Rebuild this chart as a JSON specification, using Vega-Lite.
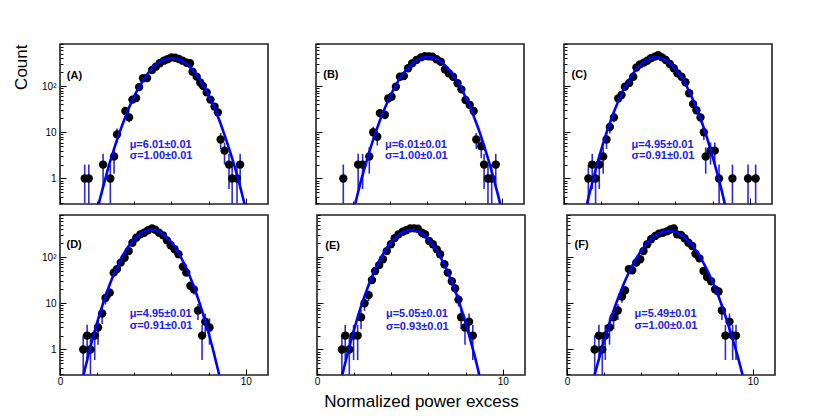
{
  "$schema": "https://vega.github.io/schema/vega-lite/v6.json",
  "padding": {"left": 11, "top": 42, "right": 5, "bottom": 5},
  "datasets": {
    "pts": [
      {"p":"A","x":1.33,"n":1,"lo":0.1,"hi":2},{"p":"A","x":1.55,"n":1,"lo":0.1,"hi":2},{"p":"A","x":2.32,"n":2,"lo":0.59,"hi":3.41},{"p":"A","x":2.71,"n":1,"lo":0.1,"hi":2},{"p":"A","x":2.91,"n":3,"lo":1.27,"hi":4.73},{"p":"A","x":3.07,"n":9,"lo":6,"hi":12},{"p":"A","x":3.52,"n":29,"lo":23.6,"hi":34.4},{"p":"A","x":3.72,"n":21,"lo":16.42,"hi":25.58},{"p":"A","x":3.9,"n":51},{"p":"A","x":4.1,"n":55},{"p":"A","x":4.26,"n":95},{"p":"A","x":4.47,"n":148},{"p":"A","x":4.69,"n":150},{"p":"A","x":4.96,"n":223},{"p":"A","x":5.16,"n":263},{"p":"A","x":5.37,"n":312},{"p":"A","x":5.59,"n":355},{"p":"A","x":5.79,"n":380},{"p":"A","x":6.0,"n":418},{"p":"A","x":6.2,"n":410},{"p":"A","x":6.4,"n":385},{"p":"A","x":6.6,"n":355},{"p":"A","x":6.82,"n":320},{"p":"A","x":7.0,"n":312},{"p":"A","x":7.14,"n":205},{"p":"A","x":7.36,"n":160},{"p":"A","x":7.55,"n":120},{"p":"A","x":7.7,"n":101},{"p":"A","x":7.9,"n":73},{"p":"A","x":8.1,"n":51},{"p":"A","x":8.32,"n":36},{"p":"A","x":8.5,"n":27,"lo":21.8,"hi":32.2},{"p":"A","x":8.65,"n":7,"lo":4.35,"hi":9.65},{"p":"A","x":8.86,"n":4,"lo":2,"hi":6},{"p":"A","x":9.1,"n":2,"lo":0.59,"hi":3.41},{"p":"A","x":9.27,"n":1,"lo":0.1,"hi":2},{"p":"A","x":9.53,"n":1,"lo":0.1,"hi":2},{"p":"A","x":9.7,"n":2,"lo":0.59,"hi":3.41},
      {"p":"B","x":1.47,"n":1,"lo":0.1,"hi":2},{"p":"B","x":2.27,"n":2,"lo":0.59,"hi":3.41},{"p":"B","x":2.51,"n":2,"lo":0.59,"hi":3.41},{"p":"B","x":2.87,"n":3,"lo":1.27,"hi":4.73},{"p":"B","x":3.08,"n":10,"lo":6.84,"hi":13.16},{"p":"B","x":3.3,"n":8,"lo":5.17,"hi":10.83},{"p":"B","x":3.44,"n":26,"lo":20.9,"hi":31.1},{"p":"B","x":3.71,"n":24,"lo":19.1,"hi":28.9},{"p":"B","x":3.89,"n":54},{"p":"B","x":4.07,"n":59},{"p":"B","x":4.3,"n":97},{"p":"B","x":4.52,"n":159},{"p":"B","x":4.73,"n":165},{"p":"B","x":4.96,"n":243},{"p":"B","x":5.18,"n":311},{"p":"B","x":5.41,"n":367},{"p":"B","x":5.65,"n":418},{"p":"B","x":5.86,"n":446},{"p":"B","x":6.08,"n":440},{"p":"B","x":6.27,"n":435},{"p":"B","x":6.49,"n":380},{"p":"B","x":6.72,"n":337},{"p":"B","x":6.94,"n":230},{"p":"B","x":7.15,"n":190},{"p":"B","x":7.38,"n":159},{"p":"B","x":7.62,"n":115},{"p":"B","x":7.83,"n":85},{"p":"B","x":8.05,"n":50},{"p":"B","x":8.28,"n":39},{"p":"B","x":8.49,"n":29,"lo":23.6,"hi":34.4},{"p":"B","x":8.63,"n":7,"lo":4.35,"hi":9.65},{"p":"B","x":8.9,"n":5,"lo":2.76,"hi":7.24},{"p":"B","x":9.05,"n":2,"lo":0.59,"hi":3.41},{"p":"B","x":9.26,"n":1,"lo":0.1,"hi":2},{"p":"B","x":9.46,"n":1,"lo":0.1,"hi":2},{"p":"B","x":9.68,"n":2,"lo":0.59,"hi":3.41},
      {"p":"C","x":1.31,"n":1,"lo":0.1,"hi":2},{"p":"C","x":1.52,"n":2,"lo":0.59,"hi":3.41},{"p":"C","x":1.7,"n":1,"lo":0.1,"hi":2},{"p":"C","x":1.9,"n":2,"lo":0.59,"hi":3.41},{"p":"C","x":2.11,"n":3,"lo":1.27,"hi":4.73},{"p":"C","x":2.29,"n":7,"lo":4.35,"hi":9.65},{"p":"C","x":2.47,"n":13,"lo":9.39,"hi":16.61},{"p":"C","x":2.69,"n":21,"lo":16.42,"hi":25.58},{"p":"C","x":2.92,"n":54},{"p":"C","x":3.1,"n":64},{"p":"C","x":3.28,"n":97},{"p":"C","x":3.51,"n":117},{"p":"C","x":3.73,"n":159},{"p":"C","x":3.9,"n":253},{"p":"C","x":4.09,"n":296},{"p":"C","x":4.3,"n":322},{"p":"C","x":4.48,"n":354},{"p":"C","x":4.68,"n":400},{"p":"C","x":4.89,"n":434},{"p":"C","x":5.07,"n":465},{"p":"C","x":5.28,"n":418},{"p":"C","x":5.48,"n":367},{"p":"C","x":5.7,"n":300},{"p":"C","x":5.91,"n":243},{"p":"C","x":6.11,"n":189},{"p":"C","x":6.33,"n":159},{"p":"C","x":6.54,"n":121},{"p":"C","x":6.74,"n":70},{"p":"C","x":6.95,"n":41},{"p":"C","x":7.13,"n":30,"lo":24.5,"hi":35.5},{"p":"C","x":7.35,"n":21,"lo":16.42,"hi":25.58},{"p":"C","x":7.53,"n":10,"lo":6.84,"hi":13.16},{"p":"C","x":7.63,"n":3,"lo":1.27,"hi":4.73},{"p":"C","x":7.89,"n":4,"lo":2,"hi":6},{"p":"C","x":8.12,"n":4,"lo":2,"hi":6},{"p":"C","x":8.35,"n":1,"lo":0.1,"hi":2},{"p":"C","x":9.07,"n":1,"lo":0.1,"hi":2},{"p":"C","x":9.91,"n":1,"lo":0.1,"hi":2},{"p":"C","x":10.32,"n":1,"lo":0.1,"hi":2},
      {"p":"D","x":1.25,"n":1,"lo":0.1,"hi":2},{"p":"D","x":1.46,"n":2,"lo":0.59,"hi":3.41},{"p":"D","x":1.64,"n":1,"lo":0.1,"hi":2},{"p":"D","x":1.87,"n":2,"lo":0.59,"hi":3.41},{"p":"D","x":2.05,"n":3,"lo":1.27,"hi":4.73},{"p":"D","x":2.27,"n":6,"lo":3.55,"hi":8.45},{"p":"D","x":2.45,"n":13,"lo":9.39,"hi":16.61},{"p":"D","x":2.68,"n":17,"lo":12.88,"hi":21.12},{"p":"D","x":2.89,"n":46},{"p":"D","x":3.07,"n":55},{"p":"D","x":3.27,"n":76},{"p":"D","x":3.48,"n":97},{"p":"D","x":3.7,"n":135},{"p":"D","x":3.9,"n":204},{"p":"D","x":4.11,"n":263},{"p":"D","x":4.33,"n":311},{"p":"D","x":4.53,"n":337},{"p":"D","x":4.74,"n":380},{"p":"D","x":4.96,"n":418},{"p":"D","x":5.13,"n":390},{"p":"D","x":5.33,"n":337},{"p":"D","x":5.55,"n":296},{"p":"D","x":5.76,"n":230},{"p":"D","x":5.96,"n":180},{"p":"D","x":6.17,"n":148},{"p":"D","x":6.38,"n":115},{"p":"D","x":6.62,"n":62},{"p":"D","x":6.8,"n":46},{"p":"D","x":7.02,"n":24,"lo":19.1,"hi":28.9},{"p":"D","x":7.21,"n":20,"lo":15.53,"hi":24.47},{"p":"D","x":7.43,"n":7,"lo":4.35,"hi":9.65},{"p":"D","x":7.65,"n":2,"lo":0.59,"hi":3.41},{"p":"D","x":7.82,"n":4,"lo":2,"hi":6},{"p":"D","x":8.05,"n":3,"lo":1.27,"hi":4.73},
      {"p":"E","x":1.34,"n":1,"lo":0.1,"hi":2},{"p":"E","x":1.52,"n":2,"lo":0.59,"hi":3.41},{"p":"E","x":1.74,"n":1,"lo":0.1,"hi":2},{"p":"E","x":1.97,"n":2,"lo":0.59,"hi":3.41},{"p":"E","x":2.19,"n":2,"lo":0.59,"hi":3.41},{"p":"E","x":2.37,"n":5,"lo":2.76,"hi":7.24},{"p":"E","x":2.56,"n":10,"lo":6.84,"hi":13.16},{"p":"E","x":2.78,"n":15,"lo":11.13,"hi":18.87},{"p":"E","x":2.96,"n":32},{"p":"E","x":3.13,"n":50},{"p":"E","x":3.35,"n":67},{"p":"E","x":3.55,"n":90},{"p":"E","x":3.76,"n":135},{"p":"E","x":3.98,"n":190},{"p":"E","x":4.18,"n":257},{"p":"E","x":4.39,"n":311},{"p":"E","x":4.61,"n":355},{"p":"E","x":4.8,"n":380},{"p":"E","x":5.02,"n":418},{"p":"E","x":5.23,"n":418},{"p":"E","x":5.43,"n":410},{"p":"E","x":5.65,"n":337},{"p":"E","x":5.82,"n":311},{"p":"E","x":6.04,"n":223},{"p":"E","x":6.24,"n":190},{"p":"E","x":6.45,"n":147},{"p":"E","x":6.63,"n":115},{"p":"E","x":6.86,"n":70},{"p":"E","x":7.04,"n":46},{"p":"E","x":7.26,"n":30,"lo":24.5,"hi":35.5},{"p":"E","x":7.44,"n":21,"lo":16.42,"hi":25.58},{"p":"E","x":7.62,"n":12,"lo":8.54,"hi":15.46},{"p":"E","x":7.76,"n":5,"lo":2.76,"hi":7.24},{"p":"E","x":7.97,"n":3,"lo":1.27,"hi":4.73},{"p":"E","x":8.19,"n":4,"lo":2,"hi":6},{"p":"E","x":8.39,"n":2,"lo":0.59,"hi":3.41},
      {"p":"F","x":1.49,"n":1,"lo":0.1,"hi":2},{"p":"F","x":1.72,"n":2,"lo":0.59,"hi":3.41},{"p":"F","x":1.9,"n":1,"lo":0.1,"hi":2},{"p":"F","x":2.06,"n":2,"lo":0.59,"hi":3.41},{"p":"F","x":2.29,"n":3,"lo":1.27,"hi":4.73},{"p":"F","x":2.51,"n":5,"lo":2.76,"hi":7.24},{"p":"F","x":2.74,"n":7,"lo":4.35,"hi":9.65},{"p":"F","x":2.96,"n":14,"lo":10.26,"hi":17.74},{"p":"F","x":3.13,"n":19,"lo":14.64,"hi":23.36},{"p":"F","x":3.33,"n":55},{"p":"F","x":3.51,"n":52},{"p":"F","x":3.73,"n":76},{"p":"F","x":3.94,"n":90},{"p":"F","x":4.12,"n":135},{"p":"F","x":4.32,"n":190},{"p":"F","x":4.53,"n":243},{"p":"F","x":4.75,"n":287},{"p":"F","x":4.95,"n":322},{"p":"F","x":5.16,"n":337},{"p":"F","x":5.38,"n":360},{"p":"F","x":5.57,"n":395},{"p":"F","x":5.75,"n":418},{"p":"F","x":5.93,"n":311},{"p":"F","x":6.14,"n":300},{"p":"F","x":6.33,"n":256},{"p":"F","x":6.54,"n":204},{"p":"F","x":6.74,"n":174},{"p":"F","x":6.92,"n":118},{"p":"F","x":7.13,"n":94},{"p":"F","x":7.35,"n":50},{"p":"F","x":7.54,"n":37},{"p":"F","x":7.76,"n":30,"lo":24.5,"hi":35.5},{"p":"F","x":7.97,"n":20,"lo":15.53,"hi":24.47},{"p":"F","x":8.16,"n":18,"lo":13.76,"hi":22.24},{"p":"F","x":8.34,"n":7,"lo":4.35,"hi":9.65},{"p":"F","x":8.53,"n":2,"lo":0.59,"hi":3.41},{"p":"F","x":8.75,"n":4,"lo":2,"hi":6},{"p":"F","x":8.92,"n":2,"lo":0.59,"hi":3.41},{"p":"F","x":9.1,"n":2,"lo":0.59,"hi":3.41}
    ],
    "fit": [
      {"p":"A","x":1.89,"f":0.136},{"p":"A","x":2.15,"f":0.358},{"p":"A","x":2.41,"f":0.886},{"p":"A","x":2.66,"f":2.06},{"p":"A","x":2.92,"f":4.5},{"p":"A","x":3.18,"f":9.23},{"p":"A","x":3.44,"f":17.8},{"p":"A","x":3.69,"f":32.2},{"p":"A","x":3.95,"f":54.8},{"p":"A","x":4.21,"f":87.6},{"p":"A","x":4.47,"f":131.5},{"p":"A","x":4.72,"f":185.4},{"p":"A","x":4.98,"f":245.6},{"p":"A","x":5.24,"f":305.7},{"p":"A","x":5.5,"f":357.4},{"p":"A","x":5.75,"f":392.5},{"p":"A","x":6.01,"f":405},{"p":"A","x":6.27,"f":392.5},{"p":"A","x":6.53,"f":357.4},{"p":"A","x":6.78,"f":305.7},{"p":"A","x":7.04,"f":245.6},{"p":"A","x":7.3,"f":185.4},{"p":"A","x":7.56,"f":131.5},{"p":"A","x":7.81,"f":87.6},{"p":"A","x":8.07,"f":54.8},{"p":"A","x":8.33,"f":32.2},{"p":"A","x":8.59,"f":17.8},{"p":"A","x":8.84,"f":9.23},{"p":"A","x":9.1,"f":4.5},{"p":"A","x":9.36,"f":2.06},{"p":"A","x":9.62,"f":0.886},{"p":"A","x":9.87,"f":0.358},{"p":"A","x":10.13,"f":0.136},
      {"p":"B","x":1.93,"f":0.144},{"p":"B","x":2.19,"f":0.38},{"p":"B","x":2.44,"f":0.94},{"p":"B","x":2.7,"f":2.19},{"p":"B","x":2.95,"f":4.78},{"p":"B","x":3.21,"f":9.8},{"p":"B","x":3.46,"f":18.9},{"p":"B","x":3.72,"f":34.2},{"p":"B","x":3.97,"f":58.2},{"p":"B","x":4.23,"f":93.0},{"p":"B","x":4.48,"f":139.6},{"p":"B","x":4.74,"f":196.9},{"p":"B","x":4.99,"f":260.8},{"p":"B","x":5.25,"f":324.6},{"p":"B","x":5.5,"f":379.5},{"p":"B","x":5.76,"f":416.8},{"p":"B","x":6.01,"f":430},{"p":"B","x":6.27,"f":416.8},{"p":"B","x":6.52,"f":379.5},{"p":"B","x":6.78,"f":324.6},{"p":"B","x":7.03,"f":260.8},{"p":"B","x":7.29,"f":196.9},{"p":"B","x":7.54,"f":139.6},{"p":"B","x":7.8,"f":93.0},{"p":"B","x":8.05,"f":58.2},{"p":"B","x":8.31,"f":34.2},{"p":"B","x":8.56,"f":18.9},{"p":"B","x":8.82,"f":9.8},{"p":"B","x":9.07,"f":4.78},{"p":"B","x":9.33,"f":2.19},{"p":"B","x":9.58,"f":0.94},{"p":"B","x":9.84,"f":0.38},{"p":"B","x":10.09,"f":0.144},
      {"p":"C","x":1.07,"f":0.141},{"p":"C","x":1.31,"f":0.371},{"p":"C","x":1.56,"f":0.919},{"p":"C","x":1.8,"f":2.14},{"p":"C","x":2.04,"f":4.67},{"p":"C","x":2.28,"f":9.57},{"p":"C","x":2.53,"f":18.5},{"p":"C","x":2.77,"f":33.4},{"p":"C","x":3.01,"f":56.8},{"p":"C","x":3.25,"f":90.8},{"p":"C","x":3.5,"f":136.4},{"p":"C","x":3.74,"f":192.3},{"p":"C","x":3.98,"f":254.7},{"p":"C","x":4.22,"f":317.0},{"p":"C","x":4.47,"f":370.7},{"p":"C","x":4.71,"f":407.1},{"p":"C","x":4.95,"f":420},{"p":"C","x":5.19,"f":407.1},{"p":"C","x":5.44,"f":370.7},{"p":"C","x":5.68,"f":317.0},{"p":"C","x":5.92,"f":254.7},{"p":"C","x":6.16,"f":192.3},{"p":"C","x":6.41,"f":136.4},{"p":"C","x":6.65,"f":90.8},{"p":"C","x":6.89,"f":56.8},{"p":"C","x":7.13,"f":33.4},{"p":"C","x":7.38,"f":18.5},{"p":"C","x":7.62,"f":9.57},{"p":"C","x":7.86,"f":4.67},{"p":"C","x":8.1,"f":2.14},{"p":"C","x":8.35,"f":0.919},{"p":"C","x":8.59,"f":0.371},{"p":"C","x":8.83,"f":0.141},
      {"p":"D","x":1.08,"f":0.131},{"p":"D","x":1.32,"f":0.345},{"p":"D","x":1.56,"f":0.853},{"p":"D","x":1.8,"f":1.98},{"p":"D","x":2.04,"f":4.33},{"p":"D","x":2.28,"f":8.89},{"p":"D","x":2.52,"f":17.1},{"p":"D","x":2.76,"f":31.0},{"p":"D","x":3.0,"f":52.8},{"p":"D","x":3.24,"f":84.4},{"p":"D","x":3.48,"f":126.6},{"p":"D","x":3.72,"f":178.5},{"p":"D","x":3.96,"f":236.5},{"p":"D","x":4.2,"f":294.4},{"p":"D","x":4.44,"f":344.2},{"p":"D","x":4.68,"f":378.0},{"p":"D","x":4.92,"f":390},{"p":"D","x":5.16,"f":378.0},{"p":"D","x":5.4,"f":344.2},{"p":"D","x":5.64,"f":294.4},{"p":"D","x":5.88,"f":236.5},{"p":"D","x":6.12,"f":178.5},{"p":"D","x":6.36,"f":126.6},{"p":"D","x":6.6,"f":84.4},{"p":"D","x":6.84,"f":52.8},{"p":"D","x":7.08,"f":31.0},{"p":"D","x":7.32,"f":17.1},{"p":"D","x":7.56,"f":8.89},{"p":"D","x":7.8,"f":4.33},{"p":"D","x":8.04,"f":1.98},{"p":"D","x":8.28,"f":0.853},{"p":"D","x":8.52,"f":0.345},{"p":"D","x":8.76,"f":0.131},
      {"p":"E","x":1.17,"f":0.129},{"p":"E","x":1.41,"f":0.34},{"p":"E","x":1.66,"f":0.842},{"p":"E","x":1.9,"f":1.96},{"p":"E","x":2.14,"f":4.28},{"p":"E","x":2.38,"f":8.77},{"p":"E","x":2.63,"f":16.9},{"p":"E","x":2.87,"f":30.6},{"p":"E","x":3.11,"f":52.1},{"p":"E","x":3.35,"f":83.3},{"p":"E","x":3.6,"f":125.0},{"p":"E","x":3.84,"f":176.3},{"p":"E","x":4.08,"f":233.5},{"p":"E","x":4.32,"f":290.6},{"p":"E","x":4.57,"f":339.8},{"p":"E","x":4.81,"f":373.1},{"p":"E","x":5.05,"f":385},{"p":"E","x":5.29,"f":373.1},{"p":"E","x":5.54,"f":339.8},{"p":"E","x":5.78,"f":290.6},{"p":"E","x":6.02,"f":233.5},{"p":"E","x":6.26,"f":176.3},{"p":"E","x":6.51,"f":125.0},{"p":"E","x":6.75,"f":83.3},{"p":"E","x":6.99,"f":52.1},{"p":"E","x":7.23,"f":30.6},{"p":"E","x":7.48,"f":16.9},{"p":"E","x":7.72,"f":8.77},{"p":"E","x":7.96,"f":4.28},{"p":"E","x":8.2,"f":1.96},{"p":"E","x":8.45,"f":0.842},{"p":"E","x":8.69,"f":0.34},{"p":"E","x":8.93,"f":0.129},
      {"p":"F","x":1.27,"f":0.124},{"p":"F","x":1.53,"f":0.327},{"p":"F","x":1.8,"f":0.809},{"p":"F","x":2.06,"f":1.88},{"p":"F","x":2.32,"f":4.11},{"p":"F","x":2.58,"f":8.43},{"p":"F","x":2.85,"f":16.3},{"p":"F","x":3.11,"f":29.5},{"p":"F","x":3.37,"f":50.1},{"p":"F","x":3.63,"f":80.0},{"p":"F","x":3.9,"f":120.1},{"p":"F","x":4.16,"f":169.4},{"p":"F","x":4.42,"f":224.4},{"p":"F","x":4.68,"f":279.3},{"p":"F","x":4.95,"f":326.5},{"p":"F","x":5.21,"f":358.6},{"p":"F","x":5.47,"f":370},{"p":"F","x":5.73,"f":358.6},{"p":"F","x":6.0,"f":326.5},{"p":"F","x":6.26,"f":279.3},{"p":"F","x":6.52,"f":224.4},{"p":"F","x":6.78,"f":169.4},{"p":"F","x":7.05,"f":120.1},{"p":"F","x":7.31,"f":80.0},{"p":"F","x":7.57,"f":50.1},{"p":"F","x":7.83,"f":29.5},{"p":"F","x":8.1,"f":16.3},{"p":"F","x":8.36,"f":8.43},{"p":"F","x":8.62,"f":4.11},{"p":"F","x":8.88,"f":1.88},{"p":"F","x":9.15,"f":0.809},{"p":"F","x":9.41,"f":0.327},{"p":"F","x":9.67,"f":0.124}
    ],
    "tags": [
      {"p":"A","tag":"(A)","mu":"μ=6.01±0.01","sg":"σ=1.00±0.01"},
      {"p":"B","tag":"(B)","mu":"μ=6.01±0.01","sg":"σ=1.00±0.01"},
      {"p":"C","tag":"(C)","mu":"μ=4.95±0.01","sg":"σ=0.91±0.01"},
      {"p":"D","tag":"(D)","mu":"μ=4.95±0.01","sg":"σ=0.91±0.01"},
      {"p":"E","tag":"(E)","mu":"μ=5.05±0.01","sg":"σ=0.93±0.01"},
      {"p":"F","tag":"(F)","mu":"μ=5.49±0.01","sg":"σ=1.00±0.01"}
    ]
  },
  "vconcat": [
    {"hconcat": [
      {"width":208,"height":160,"layer":[
        {"data":{"name":"pts"},"transform":[{"filter":"datum.p==='A' && isValid(datum.hi)"}],"mark":{"type":"rule","color":"#2b2bd0","strokeWidth":1.6,"clip":true},
         "encoding":{"x":{"field":"x","type":"quantitative","scale":{"domain":[0,11.2],"nice":false,"zero":false},"axis":{"values":[0,1,2,3,4,5,6,7,8,9,10,11],"labels":false,"title":null,"tickSize":{"condition":{"test":"datum.value % 5 === 0","value":-6},"value":-3}}},
                     "y":{"field":"lo","type":"quantitative","scale":{"type":"log","domain":[0.28,815],"nice":false},"axis":{"values":[0.3,0.4,0.5,0.6,0.7,0.8,0.9,1,2,3,4,5,6,7,8,9,10,20,30,40,50,60,70,80,90,100,200,300,400,500,600,700,800],"labelExpr":"datum.value===1?'1':datum.value===10?'10':datum.value===100?'10²':''","labelFontSize":{"condition":{"test":"datum.value===1||datum.value===10||datum.value===100","value":10},"value":0},"labelPadding":10,"title":"Count","titleAnchor":"end","titleAlign":"right","titleBaseline":"alphabetic","titleX":-34,"titleY":0,"tickSize":{"condition":{"test":"datum.value===1||datum.value===10||datum.value===100","value":-6},"value":-3}}},
                     "y2":{"field":"hi"}}},
        {"data":{"name":"pts"},"transform":[{"filter":"datum.p==='A'"}],"mark":{"type":"circle","color":"#000","opacity":1,"size":70,"clip":true},"encoding":{"x":{"field":"x","type":"quantitative"},"y":{"field":"n","type":"quantitative"}}},
        {"data":{"name":"fit"},"transform":[{"filter":"datum.p==='A'"}],"mark":{"type":"line","color":"#0000ff","strokeWidth":2.6,"clip":true,"interpolate":"monotone"},"encoding":{"x":{"field":"x","type":"quantitative"},"y":{"field":"f","type":"quantitative"}}},
        {"data":{"name":"tags"},"transform":[{"filter":"datum.p==='A'"}],"mark":{"type":"text","align":"left","baseline":"middle","font":"Liberation Sans","fontSize":11,"fontWeight":"bold","color":"#000"},"encoding":{"x":{"datum":0.37,"type":"quantitative"},"y":{"datum":165,"type":"quantitative"},"text":{"field":"tag"}}},
        {"data":{"name":"tags"},"transform":[{"filter":"datum.p==='A'"}],"mark":{"type":"text","align":"left","baseline":"middle","font":"Liberation Sans","fontSize":11,"fontWeight":"bold","color":"#2020f0"},"encoding":{"x":{"datum":3.75,"type":"quantitative"},"y":{"datum":5.3,"type":"quantitative"},"text":{"field":"mu"}}},
        {"data":{"name":"tags"},"transform":[{"filter":"datum.p==='A'"}],"mark":{"type":"text","align":"left","baseline":"middle","font":"Liberation Sans","fontSize":11,"fontWeight":"bold","color":"#2020f0"},"encoding":{"x":{"datum":3.75,"type":"quantitative"},"y":{"datum":3.07,"type":"quantitative"},"text":{"field":"sg"}}}
      ]},
      {"hconcat": [
        {"width":208,"height":160,"layer":[
          {"data":{"name":"pts"},"transform":[{"filter":"datum.p==='B' && isValid(datum.hi)"}],"mark":{"type":"rule","color":"#2b2bd0","strokeWidth":1.6,"clip":true},
           "encoding":{"x":{"field":"x","type":"quantitative","scale":{"domain":[0,11.2],"nice":false,"zero":false},"axis":{"values":[0,1,2,3,4,5,6,7,8,9,10,11],"labels":false,"title":null,"tickSize":{"condition":{"test":"datum.value % 5 === 0","value":-6},"value":-3}}},
                       "y":{"field":"lo","type":"quantitative","scale":{"type":"log","domain":[0.28,815],"nice":false},"axis":{"values":[0.3,0.4,0.5,0.6,0.7,0.8,0.9,1,2,3,4,5,6,7,8,9,10,20,30,40,50,60,70,80,90,100,200,300,400,500,600,700,800],"labels":false,"title":null,"tickSize":{"condition":{"test":"datum.value===1||datum.value===10||datum.value===100","value":-6},"value":-3}}},
                       "y2":{"field":"hi"}}},
          {"data":{"name":"pts"},"transform":[{"filter":"datum.p==='B'"}],"mark":{"type":"circle","color":"#000","opacity":1,"size":70,"clip":true},"encoding":{"x":{"field":"x","type":"quantitative"},"y":{"field":"n","type":"quantitative"}}},
          {"data":{"name":"fit"},"transform":[{"filter":"datum.p==='B'"}],"mark":{"type":"line","color":"#0000ff","strokeWidth":2.6,"clip":true,"interpolate":"monotone"},"encoding":{"x":{"field":"x","type":"quantitative"},"y":{"field":"f","type":"quantitative"}}},
          {"data":{"name":"tags"},"transform":[{"filter":"datum.p==='B'"}],"mark":{"type":"text","align":"left","baseline":"middle","font":"Liberation Sans","fontSize":11,"fontWeight":"bold","color":"#000"},"encoding":{"x":{"datum":0.39,"type":"quantitative"},"y":{"datum":170,"type":"quantitative"},"text":{"field":"tag"}}},
          {"data":{"name":"tags"},"transform":[{"filter":"datum.p==='B'"}],"mark":{"type":"text","align":"left","baseline":"middle","font":"Liberation Sans","fontSize":11,"fontWeight":"bold","color":"#2020f0"},"encoding":{"x":{"datum":3.71,"type":"quantitative"},"y":{"datum":5.3,"type":"quantitative"},"text":{"field":"mu"}}},
          {"data":{"name":"tags"},"transform":[{"filter":"datum.p==='B'"}],"mark":{"type":"text","align":"left","baseline":"middle","font":"Liberation Sans","fontSize":11,"fontWeight":"bold","color":"#2020f0"},"encoding":{"x":{"datum":3.71,"type":"quantitative"},"y":{"datum":3.07,"type":"quantitative"},"text":{"field":"sg"}}}
        ]},
        {"width":208,"height":160,"layer":[
          {"data":{"name":"pts"},"transform":[{"filter":"datum.p==='C' && isValid(datum.hi)"}],"mark":{"type":"rule","color":"#2b2bd0","strokeWidth":1.6,"clip":true},
           "encoding":{"x":{"field":"x","type":"quantitative","scale":{"domain":[0,11.2],"nice":false,"zero":false},"axis":{"values":[0,1,2,3,4,5,6,7,8,9,10,11],"labels":false,"title":null,"tickSize":{"condition":{"test":"datum.value % 5 === 0","value":-6},"value":-3}}},
                       "y":{"field":"lo","type":"quantitative","scale":{"type":"log","domain":[0.28,815],"nice":false},"axis":{"values":[0.3,0.4,0.5,0.6,0.7,0.8,0.9,1,2,3,4,5,6,7,8,9,10,20,30,40,50,60,70,80,90,100,200,300,400,500,600,700,800],"labels":false,"title":null,"tickSize":{"condition":{"test":"datum.value===1||datum.value===10||datum.value===100","value":-6},"value":-3}}},
                       "y2":{"field":"hi"}}},
          {"data":{"name":"pts"},"transform":[{"filter":"datum.p==='C'"}],"mark":{"type":"circle","color":"#000","opacity":1,"size":70,"clip":true},"encoding":{"x":{"field":"x","type":"quantitative"},"y":{"field":"n","type":"quantitative"}}},
          {"data":{"name":"fit"},"transform":[{"filter":"datum.p==='C'"}],"mark":{"type":"line","color":"#0000ff","strokeWidth":2.6,"clip":true,"interpolate":"monotone"},"encoding":{"x":{"field":"x","type":"quantitative"},"y":{"field":"f","type":"quantitative"}}},
          {"data":{"name":"tags"},"transform":[{"filter":"datum.p==='C'"}],"mark":{"type":"text","align":"left","baseline":"middle","font":"Liberation Sans","fontSize":11,"fontWeight":"bold","color":"#000"},"encoding":{"x":{"datum":0.41,"type":"quantitative"},"y":{"datum":170,"type":"quantitative"},"text":{"field":"tag"}}},
          {"data":{"name":"tags"},"transform":[{"filter":"datum.p==='C'"}],"mark":{"type":"text","align":"left","baseline":"middle","font":"Liberation Sans","fontSize":11,"fontWeight":"bold","color":"#2020f0"},"encoding":{"x":{"datum":3.64,"type":"quantitative"},"y":{"datum":5.3,"type":"quantitative"},"text":{"field":"mu"}}},
          {"data":{"name":"tags"},"transform":[{"filter":"datum.p==='C'"}],"mark":{"type":"text","align":"left","baseline":"middle","font":"Liberation Sans","fontSize":11,"fontWeight":"bold","color":"#2020f0"},"encoding":{"x":{"datum":3.64,"type":"quantitative"},"y":{"datum":3.07,"type":"quantitative"},"text":{"field":"sg"}}}
        ]}
      ], "spacing": 37}
    ], "spacing": 45},
    {"hconcat": [
      {"width":208,"height":160,"layer":[
        {"data":{"name":"pts"},"transform":[{"filter":"datum.p==='D' && isValid(datum.hi)"}],"mark":{"type":"rule","color":"#2b2bd0","strokeWidth":1.6,"clip":true},
         "encoding":{"x":{"field":"x","type":"quantitative","scale":{"domain":[0,11.2],"nice":false,"zero":false},"axis":{"values":[0,1,2,3,4,5,6,7,8,9,10,11],"labelExpr":"datum.value % 5 === 0 ? datum.label : ''","labelPadding":7,"title":null,"tickSize":{"condition":{"test":"datum.value % 5 === 0","value":-6},"value":-3}}},
                     "y":{"field":"lo","type":"quantitative","scale":{"type":"log","domain":[0.28,815],"nice":false},"axis":{"values":[0.3,0.4,0.5,0.6,0.7,0.8,0.9,1,2,3,4,5,6,7,8,9,10,20,30,40,50,60,70,80,90,100,200,300,400,500,600,700,800],"labelExpr":"datum.value===1?'1':datum.value===10?'10':datum.value===100?'10²':''","labelFontSize":{"condition":{"test":"datum.value===1||datum.value===10||datum.value===100","value":10},"value":0},"labelPadding":10,"title":"Count","titleOpacity":0,"titleAnchor":"end","titleAlign":"right","titleBaseline":"alphabetic","titleX":-34,"titleY":0,"tickSize":{"condition":{"test":"datum.value===1||datum.value===10||datum.value===100","value":-6},"value":-3}}},
                     "y2":{"field":"hi"}}},
        {"data":{"name":"pts"},"transform":[{"filter":"datum.p==='D'"}],"mark":{"type":"circle","color":"#000","opacity":1,"size":70,"clip":true},"encoding":{"x":{"field":"x","type":"quantitative"},"y":{"field":"n","type":"quantitative"}}},
        {"data":{"name":"fit"},"transform":[{"filter":"datum.p==='D'"}],"mark":{"type":"line","color":"#0000ff","strokeWidth":2.6,"clip":true,"interpolate":"monotone"},"encoding":{"x":{"field":"x","type":"quantitative"},"y":{"field":"f","type":"quantitative"}}},
        {"data":{"name":"tags"},"transform":[{"filter":"datum.p==='D'"}],"mark":{"type":"text","align":"left","baseline":"middle","font":"Liberation Sans","fontSize":11,"fontWeight":"bold","color":"#000"},"encoding":{"x":{"datum":0.35,"type":"quantitative"},"y":{"datum":183,"type":"quantitative"},"text":{"field":"tag"}}},
        {"data":{"name":"tags"},"transform":[{"filter":"datum.p==='D'"}],"mark":{"type":"text","align":"left","baseline":"middle","font":"Liberation Sans","fontSize":11,"fontWeight":"bold","color":"#2020f0"},"encoding":{"x":{"datum":3.75,"type":"quantitative"},"y":{"datum":5.8,"type":"quantitative"},"text":{"field":"mu"}}},
        {"data":{"name":"tags"},"transform":[{"filter":"datum.p==='D'"}],"mark":{"type":"text","align":"left","baseline":"middle","font":"Liberation Sans","fontSize":11,"fontWeight":"bold","color":"#2020f0"},"encoding":{"x":{"datum":3.75,"type":"quantitative"},"y":{"datum":3.2,"type":"quantitative"},"text":{"field":"sg"}}}
      ]},
      {"hconcat": [
        {"width":208,"height":160,"layer":[
          {"data":{"name":"pts"},"transform":[{"filter":"datum.p==='E' && isValid(datum.hi)"}],"mark":{"type":"rule","color":"#2b2bd0","strokeWidth":1.6,"clip":true},
           "encoding":{"x":{"field":"x","type":"quantitative","scale":{"domain":[0,11.2],"nice":false,"zero":false},"axis":{"values":[0,1,2,3,4,5,6,7,8,9,10,11],"labelExpr":"datum.value % 5 === 0 ? datum.label : ''","labelPadding":7,"title":"Normalized power excess","titleBaseline":"alphabetic","titleY":31,"tickSize":{"condition":{"test":"datum.value % 5 === 0","value":-6},"value":-3}}},
                       "y":{"field":"lo","type":"quantitative","scale":{"type":"log","domain":[0.28,815],"nice":false},"axis":{"values":[0.3,0.4,0.5,0.6,0.7,0.8,0.9,1,2,3,4,5,6,7,8,9,10,20,30,40,50,60,70,80,90,100,200,300,400,500,600,700,800],"labels":false,"title":null,"tickSize":{"condition":{"test":"datum.value===1||datum.value===10||datum.value===100","value":-6},"value":-3}}},
                       "y2":{"field":"hi"}}},
          {"data":{"name":"pts"},"transform":[{"filter":"datum.p==='E'"}],"mark":{"type":"circle","color":"#000","opacity":1,"size":70,"clip":true},"encoding":{"x":{"field":"x","type":"quantitative"},"y":{"field":"n","type":"quantitative"}}},
          {"data":{"name":"fit"},"transform":[{"filter":"datum.p==='E'"}],"mark":{"type":"line","color":"#0000ff","strokeWidth":2.6,"clip":true,"interpolate":"monotone"},"encoding":{"x":{"field":"x","type":"quantitative"},"y":{"field":"f","type":"quantitative"}}},
          {"data":{"name":"tags"},"transform":[{"filter":"datum.p==='E'"}],"mark":{"type":"text","align":"left","baseline":"middle","font":"Liberation Sans","fontSize":11,"fontWeight":"bold","color":"#000"},"encoding":{"x":{"datum":0.45,"type":"quantitative"},"y":{"datum":174,"type":"quantitative"},"text":{"field":"tag"}}},
          {"data":{"name":"tags"},"transform":[{"filter":"datum.p==='E'"}],"mark":{"type":"text","align":"left","baseline":"middle","font":"Liberation Sans","fontSize":11,"fontWeight":"bold","color":"#2020f0"},"encoding":{"x":{"datum":3.71,"type":"quantitative"},"y":{"datum":5.8,"type":"quantitative"},"text":{"field":"mu"}}},
          {"data":{"name":"tags"},"transform":[{"filter":"datum.p==='E'"}],"mark":{"type":"text","align":"left","baseline":"middle","font":"Liberation Sans","fontSize":11,"fontWeight":"bold","color":"#2020f0"},"encoding":{"x":{"datum":3.71,"type":"quantitative"},"y":{"datum":3.07,"type":"quantitative"},"text":{"field":"sg"}}}
        ]},
        {"width":208,"height":160,"layer":[
          {"data":{"name":"pts"},"transform":[{"filter":"datum.p==='F' && isValid(datum.hi)"}],"mark":{"type":"rule","color":"#2b2bd0","strokeWidth":1.6,"clip":true},
           "encoding":{"x":{"field":"x","type":"quantitative","scale":{"domain":[0,11.2],"nice":false,"zero":false},"axis":{"values":[0,1,2,3,4,5,6,7,8,9,10,11],"labelExpr":"datum.value % 5 === 0 ? datum.label : ''","labelPadding":7,"title":null,"tickSize":{"condition":{"test":"datum.value % 5 === 0","value":-6},"value":-3}}},
                       "y":{"field":"lo","type":"quantitative","scale":{"type":"log","domain":[0.28,815],"nice":false},"axis":{"values":[0.3,0.4,0.5,0.6,0.7,0.8,0.9,1,2,3,4,5,6,7,8,9,10,20,30,40,50,60,70,80,90,100,200,300,400,500,600,700,800],"labels":false,"title":null,"tickSize":{"condition":{"test":"datum.value===1||datum.value===10||datum.value===100","value":-6},"value":-3}}},
                       "y2":{"field":"hi"}}},
          {"data":{"name":"pts"},"transform":[{"filter":"datum.p==='F'"}],"mark":{"type":"circle","color":"#000","opacity":1,"size":70,"clip":true},"encoding":{"x":{"field":"x","type":"quantitative"},"y":{"field":"n","type":"quantitative"}}},
          {"data":{"name":"fit"},"transform":[{"filter":"datum.p==='F'"}],"mark":{"type":"line","color":"#0000ff","strokeWidth":2.6,"clip":true,"interpolate":"monotone"},"encoding":{"x":{"field":"x","type":"quantitative"},"y":{"field":"f","type":"quantitative"}}},
          {"data":{"name":"tags"},"transform":[{"filter":"datum.p==='F'"}],"mark":{"type":"text","align":"left","baseline":"middle","font":"Liberation Sans","fontSize":11,"fontWeight":"bold","color":"#000"},"encoding":{"x":{"datum":0.41,"type":"quantitative"},"y":{"datum":183,"type":"quantitative"},"text":{"field":"tag"}}},
          {"data":{"name":"tags"},"transform":[{"filter":"datum.p==='F'"}],"mark":{"type":"text","align":"left","baseline":"middle","font":"Liberation Sans","fontSize":11,"fontWeight":"bold","color":"#2020f0"},"encoding":{"x":{"datum":3.64,"type":"quantitative"},"y":{"datum":5.8,"type":"quantitative"},"text":{"field":"mu"}}},
          {"data":{"name":"tags"},"transform":[{"filter":"datum.p==='F'"}],"mark":{"type":"text","align":"left","baseline":"middle","font":"Liberation Sans","fontSize":11,"fontWeight":"bold","color":"#2020f0"},"encoding":{"x":{"datum":3.64,"type":"quantitative"},"y":{"datum":3.2,"type":"quantitative"},"text":{"field":"sg"}}}
        ]}
      ], "spacing": 37}
    ], "spacing": 44}
  ],
  "spacing": 7,
  "config": {
    "view": {"stroke": "#222", "strokeWidth": 1.6},
    "axis": {"domain": false, "grid": false, "labelFont": "Liberation Sans", "labelFontSize": 10, "labelColor": "#000", "tickColor": "#000", "tickWidth": 1, "labelFlush": false, "labelOverlap": false, "minExtent": 0, "titleFont": "Liberation Sans", "titleFontSize": 17, "titleFontWeight": "normal", "titleColor": "#000"}
  }
}
